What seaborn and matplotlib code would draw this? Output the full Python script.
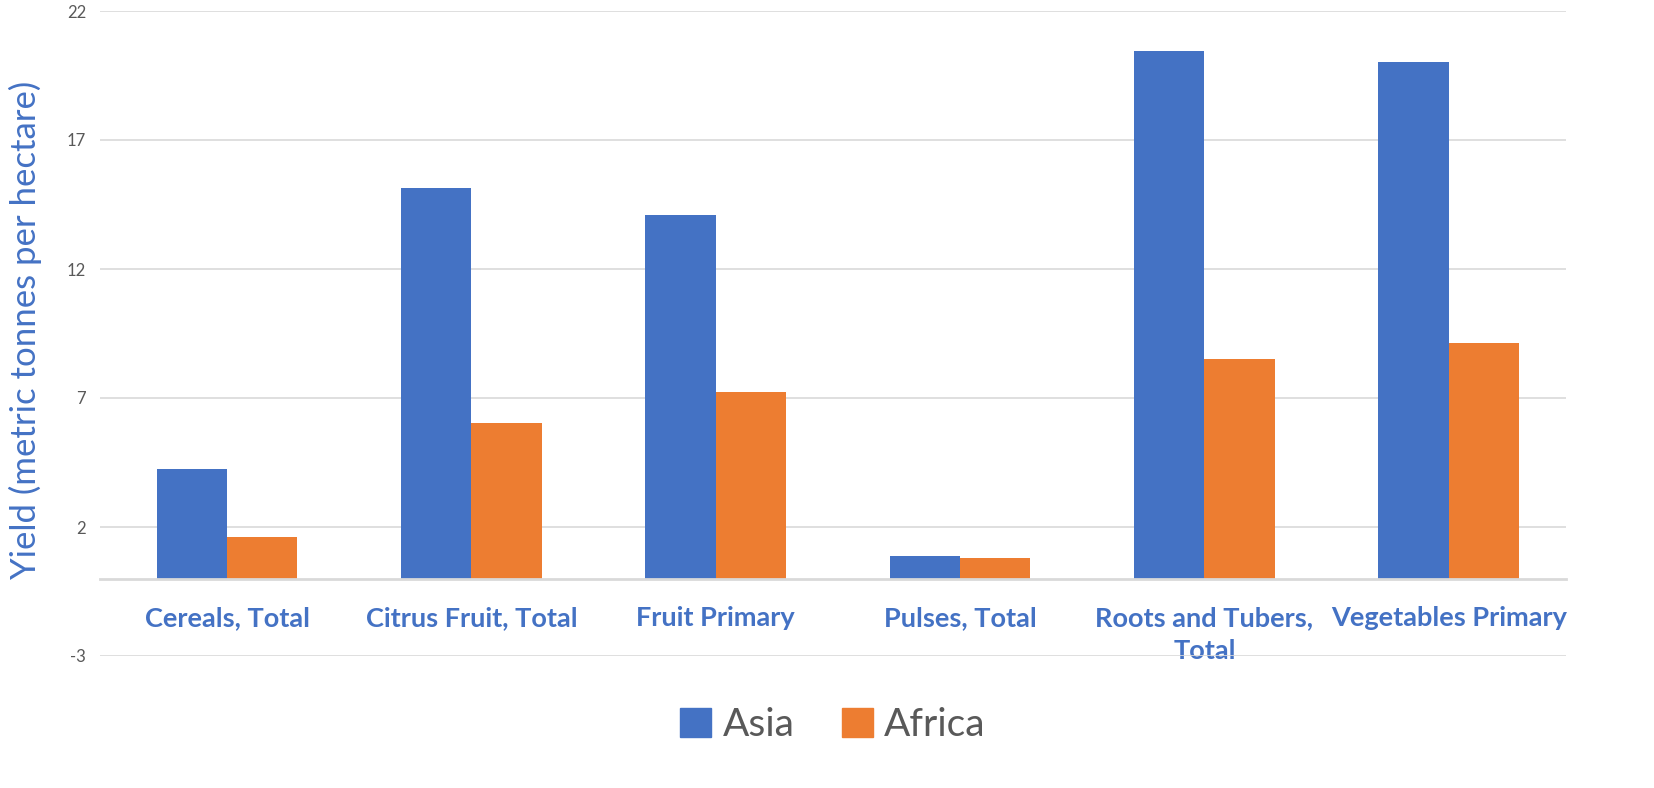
import pandas as pd
import matplotlib.pyplot as plt
import seaborn as sns

# Yield per crop group
categories = ["Cereals, Total", "Citrus Fruit, Total", "Fruit Primary",
              "Pulses, Total", "Roots and Tubers,\nTotal", "Vegetables Primary"]
asia = [4.25, 15.14, 14.09, 0.88, 20.45, 20.02]
africa = [1.61, 6.03, 7.23, 0.80, 8.51, 9.13]
regions = ["Asia", "Africa"]
yticks = [-3, 2, 7, 12, 17, 22]

df = pd.DataFrame({
    "category": categories * 2,
    "region": ["Asia"] * len(categories) + ["Africa"] * len(categories),
    "yield": asia + africa,
})

sns.set_theme(style="white")
plt.rcParams["font.family"] = ["Lato", "DejaVu Sans"]
plt.rcParams["axes.unicode_minus"] = False

blue = "#4472C4"
orange = "#ED7D31"

fig = plt.figure(figsize=(16.54, 7.88), dpi=100)
ax = fig.add_axes([100 / 1654, 1 - 656 / 788, 1466 / 1654, 645 / 788])

sns.barplot(data=df, x="category", y="yield", hue="region", hue_order=regions,
            palette=[blue, orange], width=0.575, saturation=1, ax=ax,
            edgecolor="none", legend=False)

ax.set_ylim(-3, 22)
ax.set_xlim(-0.52, 5.48)
ax.set_yticks(yticks)
ax.yaxis.grid(True, color="#d9d9d9", linewidth=1.2)
ax.set_axisbelow(True)

for s in ["left", "right", "top"]:
    ax.spines[s].set_visible(False)
ax.spines["bottom"].set_position(("data", 0))
ax.spines["bottom"].set_color("#d9d9d9")
ax.spines["bottom"].set_linewidth(2)

ax.tick_params(axis="y", length=0, labelsize=12, labelcolor="#595959", pad=10)
ax.tick_params(axis="x", length=0, pad=20)
for lbl in ax.get_xticklabels():
    lbl.set_fontsize(19.5)
    lbl.set_fontweight("bold")
    lbl.set_color(blue)
    lbl.set_linespacing(1.45)

ax.set_xlabel("")
ax.set_ylabel("")
fig.text(25 / 1654, 1 - 330 / 788, "Yield (metric tonnes per hectare)", rotation=90,
         ha="center", va="center", fontsize=25, color=blue)

handles = [plt.Rectangle((0, 0), 1, 1, color=c) for c in [blue, orange]]
fig.legend(handles, regions, loc="center", bbox_to_anchor=(833 / 1654, 1 - 725 / 788),
           ncol=2, frameon=False, fontsize=28, labelcolor="#595959",
           handlelength=0.8, handleheight=0.8, handletextpad=0.3, columnspacing=1.2)

fig.savefig("out.png", dpi=100)
